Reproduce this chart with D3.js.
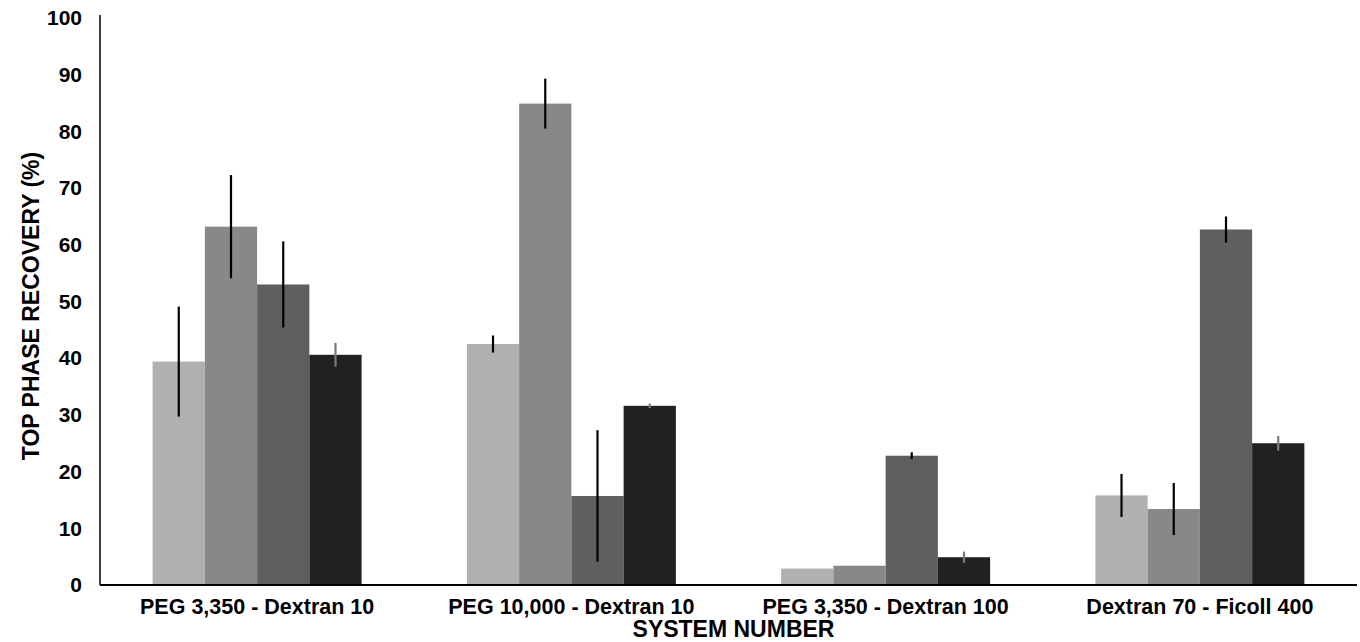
<html>
<head>
<script src="https://d3js.org/d3.v7.min.js"></script>
<style>
body { margin: 0; background: #fff; }
text { font-family: "Liberation Sans", Arial, sans-serif; font-weight: bold; fill: #000; }
</style>
</head>
<body>
<svg id="chart" width="1360" height="642"></svg>
<script>
// categories and series
var systems = ["PEG 3,350 - Dextran 10", "PEG 10,000 - Dextran 10", "PEG 3,350 - Dextran 100", "Dextran 70 - Ficoll 400"];
var seriesNames = ["s1", "s2", "s3", "s4"];
var seriesColors = ["#b0b0b0", "#888888", "#5f5f5f", "#212121"];
var errColors = ["#000", "#000", "#000", "#7a7a7a"];

// values per series (one value per system)
var s1 = [39.4, 42.5, 2.9, 15.8];
var s2 = [63.2, 84.9, 3.4, 13.4];
var s3 = [53.0, 15.7, 22.8, 62.7];
var s4 = [40.6, 31.6, 4.9, 25.0];
var e1 = [9.7, 1.5, 0, 3.8];
var e2 = [9.1, 4.4, 0, 4.6];
var e3 = [7.6, 11.6, 0.6, 2.3];
var e4 = [2.1, 0.4, 1.0, 1.3];
var yTicks = [0, 10, 20, 30, 40, 50, 60, 70, 80, 90, 100];

var values = [s1, s2, s3, s4];
var errors = [e1, e2, e3, e4];

var svg = d3.select("#chart");
var mLeft = 100, mRight = 1357, mTop = 18, mBottom = 585;

var x0 = d3.scaleBand().domain(systems).range([mLeft, mRight]).paddingInner(0.335).paddingOuter(0.1675);
var x1 = d3.scaleBand().domain(seriesNames).range([0, x0.bandwidth()]);
var y = d3.scaleLinear().domain([0, 100]).range([mBottom, mTop]);

// flatten into bar records
var bars = [];
systems.forEach(function(sys, i) {
  seriesNames.forEach(function(s, j) {
    bars.push({sys: sys, s: s, j: j, v: values[j][i], e: errors[j][i]});
  });
});

svg.append("g").selectAll("rect")
  .data(bars)
  .enter().append("rect")
    .attr("x", function(d) { return x0(d.sys) + x1(d.s); })
    .attr("y", function(d) { return y(d.v); })
    .attr("width", x1.bandwidth())
    .attr("height", function(d) { return y(0) - y(d.v); })
    .style("fill", function(d) { return seriesColors[d.j]; });

// error bars, no caps
svg.append("g").selectAll("line")
  .data(bars.filter(function(d) { return d.e > 0; }))
  .enter().append("line")
    .attr("x1", function(d) { return x0(d.sys) + x1(d.s) + x1.bandwidth() / 2; })
    .attr("x2", function(d) { return x0(d.sys) + x1(d.s) + x1.bandwidth() / 2; })
    .attr("y1", function(d) { return y(d.v + d.e); })
    .attr("y2", function(d) { return y(d.v - d.e); })
    .style("stroke", function(d) { return errColors[d.j]; })
    .style("stroke-width", 2.2);

// y axis
var yAxis = svg.append("g")
  .attr("transform", "translate(" + mLeft + ",0)")
  .call(d3.axisLeft(y).tickValues(yTicks).tickSize(0).tickPadding(18));
yAxis.select(".domain").remove();
yAxis.selectAll("text").style("font-size", "21px").style("font-family", "Liberation Sans, Arial").style("font-weight", "bold");
svg.append("line")
  .attr("x1", mLeft).attr("x2", mLeft)
  .attr("y1", 15).attr("y2", mBottom)
  .style("stroke", "#000").style("stroke-width", 1.5);

// x axis
var xAxis = svg.append("g")
  .attr("transform", "translate(0," + mBottom + ")")
  .call(d3.axisBottom(x0).tickSize(0).tickPadding(14));
xAxis.select(".domain").remove();
xAxis.selectAll("text").style("font-size", "21.5px").style("font-family", "Liberation Sans, Arial").style("font-weight", "bold");
svg.append("line")
  .attr("x1", mLeft).attr("x2", mRight)
  .attr("y1", mBottom).attr("y2", mBottom)
  .style("stroke", "#000").style("stroke-width", 2);

// axis titles
svg.append("text")
  .attr("x", (mLeft + mRight) / 2 + 5)
  .attr("y", 637)
  .attr("text-anchor", "middle")
  .style("font-size", "23px")
  .text("SYSTEM NUMBER");

svg.append("text")
  .attr("transform", "translate(39,306) rotate(-90)")
  .attr("text-anchor", "middle")
  .style("font-size", "23px")
  .text("TOP PHASE RECOVERY (%)");
</script>
</body>
</html>
